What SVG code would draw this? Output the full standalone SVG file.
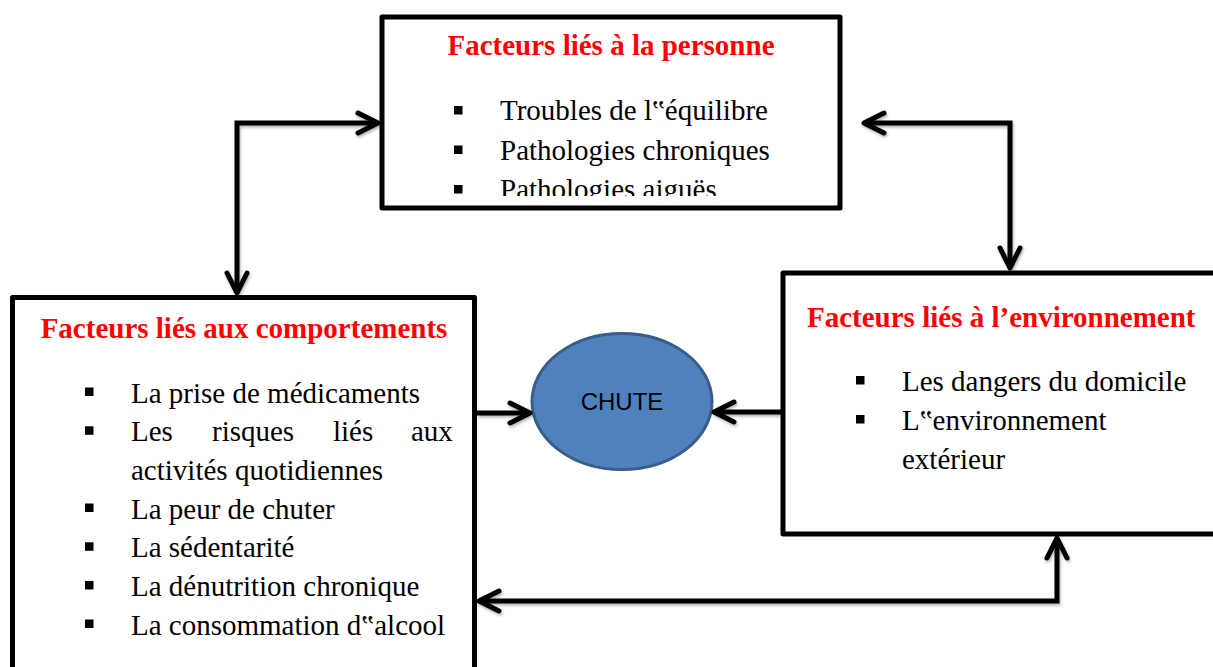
<svg xmlns="http://www.w3.org/2000/svg" width="1213" height="667" viewBox="0 0 1213 667">
<style>
.box{fill:#fff;stroke:#000;stroke-width:5;stroke-linejoin:round}
.ttl{font-family:"Liberation Serif","Times New Roman",serif;font-weight:bold;font-size:29px;fill:#ff0000}
.txt{font-family:"Liberation Serif","Times New Roman",serif;font-size:29px;fill:#000}
.bul{fill:#000}
.con{fill:none;stroke:#000;stroke-width:5;stroke-linejoin:miter}
</style>
<defs>
<marker id="ah" markerUnits="userSpaceOnUse" viewBox="-26 -16 30 32" refX="0" refY="0" markerWidth="30" markerHeight="32" orient="auto-start-reverse">
<path d="M-20,-10 L0,0 L-20,10" fill="none" stroke="#000" stroke-width="5" stroke-linecap="round" stroke-linejoin="round"/>
</marker>
<filter id="sh" x="-10%" y="-10%" width="120%" height="120%">
<feDropShadow dx="1" dy="2" stdDeviation="1.5" flood-color="#000" flood-opacity="0.3"/>
</filter>
<clipPath id="clipTop"><rect x="382" y="17" width="458" height="179"/></clipPath>
</defs>

<g id="node-personne">
<rect class="box" x="382" y="17" width="458" height="191"/>
<text class="ttl" x="611" y="55" text-anchor="middle">Facteurs liés à la personne</text>
<g clip-path="url(#clipTop)">
<rect class="bul" x="454" y="106" width="8.5" height="8.5"/>
<text class="txt" x="500" y="120">Troubles de l‟équilibre</text>
<rect class="bul" x="454" y="145.5" width="8.5" height="8.5"/>
<text class="txt" x="500" y="159.5">Pathologies chroniques</text>
<rect class="bul" x="454" y="185" width="8.5" height="8.5"/>
<text class="txt" x="500" y="199">Pathologies aiguës</text>
</g>
</g>

<g id="node-comportements">
<rect class="box" x="12.5" y="297.5" width="462" height="400"/>
<text class="ttl" x="244" y="338" text-anchor="middle">Facteurs liés aux comportements</text>
<rect class="bul" x="85" y="387.5" width="8.5" height="8.5"/>
<text class="txt" x="131" y="402.5">La prise de médicaments</text>
<rect class="bul" x="85" y="426.3" width="8.5" height="8.5"/>
<text class="txt" y="441.3"><tspan x="131">Les</tspan><tspan x="212">risques</tspan><tspan x="333">liés</tspan><tspan x="411">aux</tspan></text>
<text class="txt" x="131" y="480">activités quotidiennes</text>
<rect class="bul" x="85" y="503.5" width="8.5" height="8.5"/>
<text class="txt" x="131" y="518.5">La peur de chuter</text>
<rect class="bul" x="85" y="542.3" width="8.5" height="8.5"/>
<text class="txt" x="131" y="557.3">La sédentarité</text>
<rect class="bul" x="85" y="581" width="8.5" height="8.5"/>
<text class="txt" x="131" y="596">La dénutrition chronique</text>
<rect class="bul" x="85" y="619.5" width="8.5" height="8.5"/>
<text class="txt" x="131" y="634.5">La consommation d‟alcool</text>
</g>

<g id="node-environnement">
<rect class="box" x="783" y="273" width="460" height="261"/>
<text class="ttl" x="807" y="327">Facteurs liés à l’environnement</text>
<rect class="bul" x="856" y="376" width="8.5" height="8.5"/>
<text class="txt" x="902" y="391">Les dangers du domicile</text>
<rect class="bul" x="856" y="415" width="8.5" height="8.5"/>
<text class="txt" x="902" y="430">L‟environnement</text>
<text class="txt" x="902" y="469.3">extérieur</text>
</g>

<g id="node-chute">
<ellipse cx="622" cy="401.5" rx="90" ry="68" fill="#4f81bd" stroke="#385d8a" stroke-width="3"/>
<text x="622" y="410" text-anchor="middle" font-family="'Liberation Sans',Arial,sans-serif" font-size="24" fill="#000">CHUTE</text>
</g>

<g id="connectors" filter="url(#sh)">
<path class="con" d="M378,123 H237 V293" marker-start="url(#ah)" marker-end="url(#ah)"/>
<path class="con" d="M864,123 H1010 V268" marker-start="url(#ah)" marker-end="url(#ah)"/>
<path class="con" d="M477,413 H530" marker-end="url(#ah)"/>
<path class="con" d="M781,412 H714" marker-end="url(#ah)"/>
<path class="con" d="M1057,538 V601 H479" marker-start="url(#ah)" marker-end="url(#ah)"/>
</g>
</svg>
